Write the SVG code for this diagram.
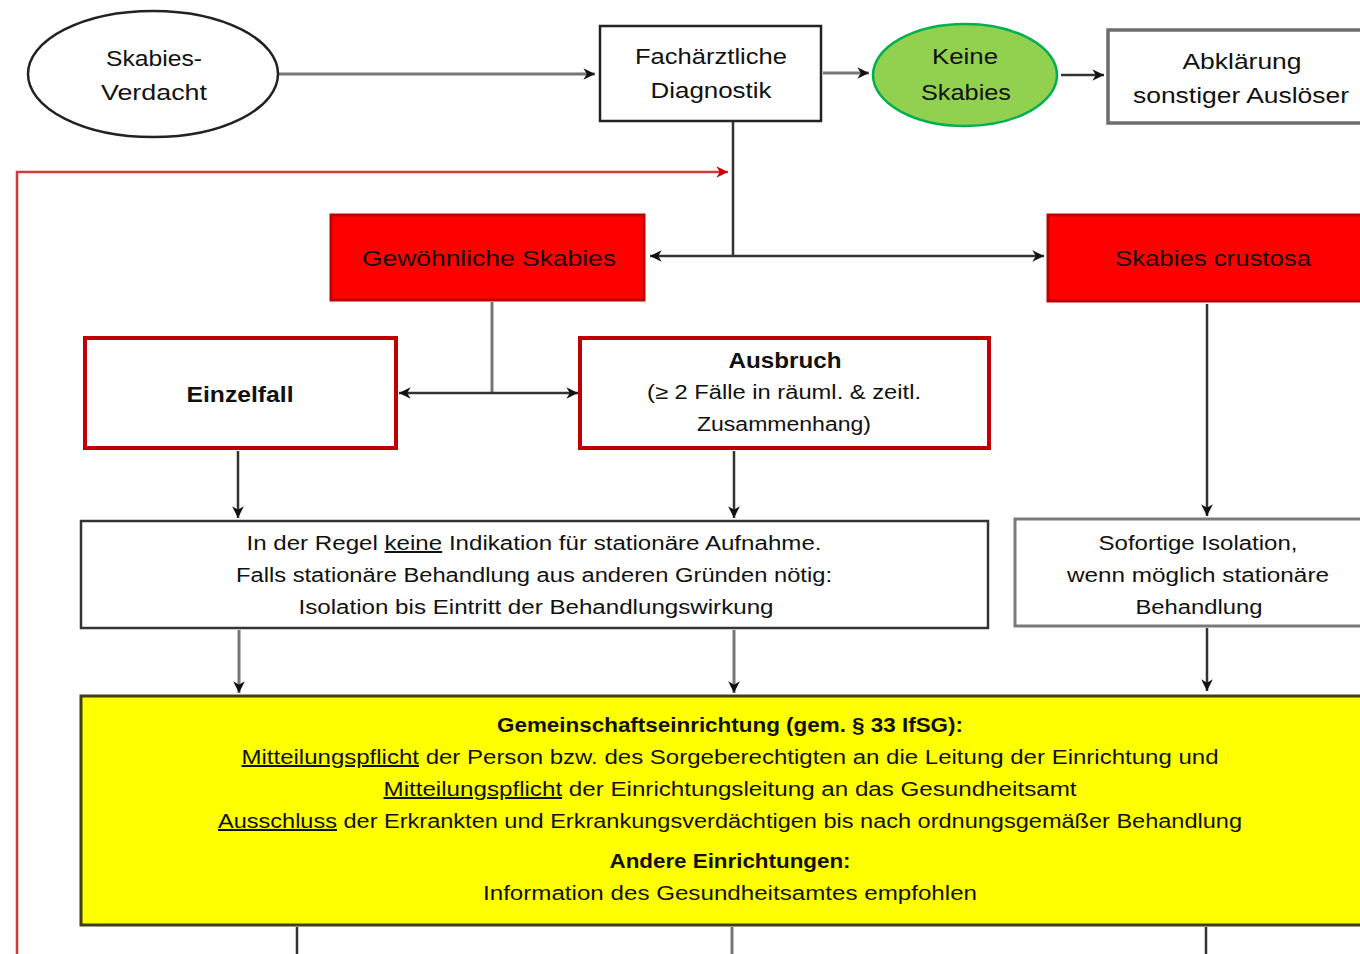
<svg xmlns="http://www.w3.org/2000/svg" width="1360" height="954" viewBox="0 0 1360 954">
<defs>
<marker id="ah" markerUnits="userSpaceOnUse" markerWidth="14" markerHeight="14" viewBox="0 0 12 12" refX="11" refY="6" orient="auto-start-reverse"><path d="M1,1 L11,6 L1,11 L4,6 z" fill="#111"/></marker>
<marker id="ahr" markerUnits="userSpaceOnUse" markerWidth="14" markerHeight="14" viewBox="0 0 12 12" refX="11" refY="6" orient="auto"><path d="M1,1 L11,6 L1,11 L4,6 z" fill="#cc0000"/></marker>
<style>
text{font-family:"Liberation Sans",Arial,sans-serif;fill:#111;text-anchor:middle}
.t22{font-size:22px}
.t20{font-size:20px}
.b{font-weight:bold}
.u{text-decoration:underline}
.c{stroke:#333;stroke-width:2.5;fill:none}
.cg{stroke:#777;stroke-width:3;fill:none}
.redbox{fill:#ff0000;stroke:#c00000;stroke-width:3}
.redline{fill:#fff;stroke:#c00000;stroke-width:4}
</style>
</defs>
<rect width="1360" height="954" fill="#fff"/>
<g id="connectors">
<line class="cg" x1="279" y1="74" x2="595" y2="74" marker-end="url(#ah)"/>
<line class="cg" x1="823" y1="73" x2="869" y2="73" marker-end="url(#ah)"/>
<line class="c" x1="1061" y1="75" x2="1104" y2="75" marker-end="url(#ah)"/>
<line class="c" x1="733" y1="122" x2="733" y2="256"/>
<line class="c" x1="650" y1="256" x2="1044" y2="256" marker-start="url(#ah)" marker-end="url(#ah)"/>
<path d="M17,954 V172 H728" fill="none" stroke="#d03a3a" stroke-width="2.5" marker-end="url(#ahr)"/>
<line class="cg" x1="492" y1="302" x2="492" y2="393"/>
<line class="c" x1="399" y1="393" x2="578" y2="393" marker-start="url(#ah)" marker-end="url(#ah)"/>
<line class="c" x1="238" y1="451" x2="238" y2="518" marker-end="url(#ah)"/>
<line class="c" x1="734" y1="451" x2="734" y2="518" marker-end="url(#ah)"/>
<line class="c" x1="1207" y1="304" x2="1207" y2="516" marker-end="url(#ah)"/>
<line class="cg" x1="239" y1="630" x2="239" y2="693" marker-end="url(#ah)"/>
<line class="cg" x1="734" y1="630" x2="734" y2="693" marker-end="url(#ah)"/>
<line class="c" x1="1207" y1="628" x2="1207" y2="691" marker-end="url(#ah)"/>
<line class="c" x1="297" y1="927" x2="297" y2="954"/>
<line class="cg" x1="732" y1="927" x2="732" y2="954"/>
<line class="c" x1="1206" y1="927" x2="1206" y2="954"/>
</g>
<g id="verdacht">
<ellipse cx="153" cy="74" rx="125" ry="63" fill="#fff" stroke="#222" stroke-width="2.5"/>
<text class="t22" x="154" y="66" textLength="96" lengthAdjust="spacingAndGlyphs">Skabies-</text>
<text class="t22" x="154" y="100" textLength="106" lengthAdjust="spacingAndGlyphs">Verdacht</text>
</g>
<g id="diagnostik">
<rect x="600" y="26" width="221" height="95" fill="#fff" stroke="#222" stroke-width="2.5"/>
<text class="t22" x="711" y="64" textLength="152" lengthAdjust="spacingAndGlyphs">Fachärztliche</text>
<text class="t22" x="711" y="98" textLength="121" lengthAdjust="spacingAndGlyphs">Diagnostik</text>
</g>
<g id="keine">
<ellipse cx="965" cy="75" rx="92" ry="51" fill="#92d050" stroke="#00b050" stroke-width="2.5"/>
<text class="t22" x="965" y="64" textLength="66" lengthAdjust="spacingAndGlyphs">Keine</text>
<text class="t22" x="966" y="100" textLength="90" lengthAdjust="spacingAndGlyphs">Skabies</text>
</g>
<g id="abklaerung">
<rect x="1108" y="30" width="262" height="93" fill="#fff" stroke="#6e6e6e" stroke-width="3.5"/>
<text class="t22" x="1242" y="69" textLength="119" lengthAdjust="spacingAndGlyphs">Abklärung</text>
<text class="t22" x="1241" y="103" textLength="216" lengthAdjust="spacingAndGlyphs">sonstiger Auslöser</text>
</g>
<g id="gewoehnlich">
<rect x="331" y="215" width="313" height="85" class="redbox"/>
<text class="t22" x="489" y="266" textLength="254" lengthAdjust="spacingAndGlyphs">Gewöhnliche Skabies</text>
</g>
<g id="crustosa">
<rect x="1048" y="215" width="330" height="86" class="redbox"/>
<text class="t22" x="1213" y="266" textLength="196" lengthAdjust="spacingAndGlyphs">Skabies crustosa</text>
</g>
<g id="einzelfall">
<rect x="85" y="338" width="311" height="110" class="redline"/>
<text class="t22 b" x="240" y="402" textLength="107" lengthAdjust="spacingAndGlyphs">Einzelfall</text>
</g>
<g id="ausbruch">
<rect x="580" y="338" width="409" height="110" class="redline"/>
<text class="t22 b" x="785" y="368" textLength="113" lengthAdjust="spacingAndGlyphs">Ausbruch</text>
<text class="t20" x="784" y="399" textLength="274" lengthAdjust="spacingAndGlyphs">(≥ 2 Fälle in räuml. &amp; zeitl.</text>
<text class="t20" x="784" y="431" textLength="174" lengthAdjust="spacingAndGlyphs">Zusammenhang)</text>
</g>
<g id="stationaer">
<rect x="81" y="521" width="907" height="107" fill="#fff" stroke="#333" stroke-width="2.5"/>
<text class="t20" x="534" y="550" textLength="575" lengthAdjust="spacingAndGlyphs">In der Regel <tspan class="u">keine</tspan> Indikation für stationäre Aufnahme.</text>
<text class="t20" x="534" y="582" textLength="596" lengthAdjust="spacingAndGlyphs">Falls stationäre Behandlung aus anderen Gründen nötig:</text>
<text class="t20" x="536" y="614" textLength="475" lengthAdjust="spacingAndGlyphs">Isolation bis Eintritt der Behandlungswirkung</text>
</g>
<g id="sofortige">
<rect x="1015" y="519" width="360" height="107" fill="#fff" stroke="#7a7a7a" stroke-width="3"/>
<text class="t20" x="1198" y="550" textLength="199" lengthAdjust="spacingAndGlyphs">Sofortige Isolation,</text>
<text class="t20" x="1198" y="582" textLength="262" lengthAdjust="spacingAndGlyphs">wenn möglich stationäre</text>
<text class="t20" x="1199" y="614" textLength="127" lengthAdjust="spacingAndGlyphs">Behandlung</text>
</g>
<g id="meldung">
<rect x="81" y="696" width="1300" height="229" fill="#ffff00" stroke="#3f3f10" stroke-width="3"/>
<text class="t20 b" x="730" y="732" textLength="466" lengthAdjust="spacingAndGlyphs">Gemeinschaftseinrichtung (gem. § 33 IfSG):</text>
<text class="t20" x="730" y="764" textLength="977" lengthAdjust="spacingAndGlyphs"><tspan class="u">Mitteilungspflicht</tspan> der Person bzw. des Sorgeberechtigten an die Leitung der Einrichtung und</text>
<text class="t20" x="730" y="796" textLength="693" lengthAdjust="spacingAndGlyphs"><tspan class="u">Mitteilungspflicht</tspan> der Einrichtungsleitung an das Gesundheitsamt</text>
<text class="t20" x="730" y="828" textLength="1024" lengthAdjust="spacingAndGlyphs"><tspan class="u">Ausschluss</tspan> der Erkrankten und Erkrankungsverdächtigen bis nach ordnungsgemäßer Behandlung</text>
<text class="t20 b" x="730" y="868" textLength="241" lengthAdjust="spacingAndGlyphs">Andere Einrichtungen:</text>
<text class="t20" x="730" y="900" textLength="494" lengthAdjust="spacingAndGlyphs">Information des Gesundheitsamtes empfohlen</text>
</g>
</svg>
